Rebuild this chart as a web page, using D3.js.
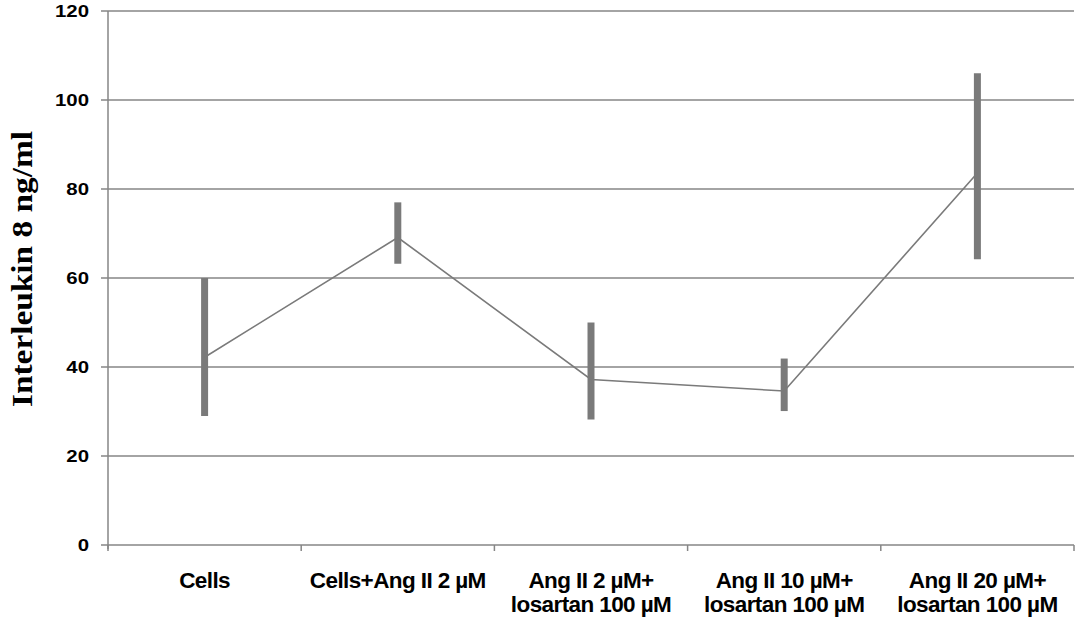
<!DOCTYPE html>
<html>
<head>
<meta charset="utf-8">
<script src="https://cdn.jsdelivr.net/npm/d3@7"></script>
<style>
  body { margin: 0; background: #fff; }
  text { font-family: "Liberation Sans", Arial, sans-serif; }
</style>
</head>
<body>
<div id="chart"></div>
<script>
const width = 1087;
const height = 620;

// data
const categories = [
	["Cells"],
	["Cells+Ang II 2 µM"],
	["Ang II 2 µM+", "losartan 100 µM"],
	["Ang II 10 µM+", "losartan 100 µM"],
	["Ang II 20 µM+", "losartan 100 µM"]
];
const means = [42.2, 69.1, 37.2, 34.6, 83.6];
const lows = [29, 63.2, 28.2, 30.1, 64.2];
const highs = [60, 77, 50, 41.9, 106];
const yTicks = [0, 20, 40, 60, 80, 100, 120];

const margin = { top: 11, right: 13, bottom: 75, left: 108 };

const svg = d3
	.select("#chart")
	.append("svg")
	.attr("width", width)
	.attr("height", height);

const x = d3
	.scaleBand()
	.domain(d3.range(categories.length))
	.range([margin.left, width - margin.right]);

const y = d3
	.scaleLinear()
	.domain([0, 120])
	.range([height - margin.bottom, margin.top]);

// gridlines + y ticks
svg
	.append("g")
	.selectAll("line")
	.data(yTicks)
	.enter()
	.append("line")
	.attr("x1", margin.left - 7)
	.attr("x2", width - margin.right)
	.attr("y1", (d) => y(d))
	.attr("y2", (d) => y(d))
	.attr("stroke", "#868686")
	.attr("stroke-width", 1.5);

// tick labels are drawn a bit wide in the original
svg
	.append("g")
	.selectAll("text")
	.data(yTicks)
	.enter()
	.append("text")
	.attr("transform", (d) => `translate(${margin.left - 19}, ${y(d)}) scale(1.2, 1)`)
	.attr("dy", "0.36em")
	.attr("text-anchor", "end")
	.attr("font-size", 17)
	.attr("font-weight", "bold")
	.attr("fill", "#000")
	.text((d) => d);

// y axis line
svg
	.append("line")
	.attr("x1", margin.left)
	.attr("x2", margin.left)
	.attr("y1", y(120))
	.attr("y2", y(0) + 4)
	.attr("stroke", "#868686")
	.attr("stroke-width", 1.5);

// x ticks at category boundaries
const bounds = d3.range(categories.length + 1).map((i) => margin.left + i * x.bandwidth());
svg
	.append("g")
	.selectAll("line")
	.data(bounds)
	.enter()
	.append("line")
	.attr("x1", (d) => d)
	.attr("x2", (d) => d)
	.attr("y1", y(0))
	.attr("y2", y(0) + 6)
	.attr("stroke", "#868686")
	.attr("stroke-width", 1.5);

// x labels
const labels = svg
	.append("g")
	.selectAll("text")
	.data(categories)
	.enter()
	.append("text")
	.attr("x", (d, i) => x(i) + x.bandwidth() / 2)
	.attr("y", 588)
	.attr("text-anchor", "middle")
	.attr("font-size", 22.5)
	.attr("font-weight", "bold")
	.attr("letter-spacing", -0.6)
	.attr("fill", "#000");

labels
	.selectAll("tspan")
	.data((d) => d)
	.enter()
	.append("tspan")
	.attr("x", function () {
		return d3.select(this.parentNode).attr("x");
	})
	.attr("dy", (d, i) => (i === 0 ? 0 : 24))
	.text((d) => d);

// error bars
svg
	.append("g")
	.selectAll("line")
	.data(means)
	.enter()
	.append("line")
	.attr("x1", (d, i) => x(i) + x.bandwidth() / 2)
	.attr("x2", (d, i) => x(i) + x.bandwidth() / 2)
	.attr("y1", (d, i) => y(lows[i]))
	.attr("y2", (d, i) => y(highs[i]))
	.attr("stroke", "#7a7a7a")
	.attr("stroke-width", 7);

// mean line
const line = d3
	.line()
	.x((d, i) => x(i) + x.bandwidth() / 2)
	.y((d) => y(d));

svg
	.append("path")
	.datum(means)
	.attr("d", line)
	.attr("fill", "none")
	.attr("stroke", "#7a7a7a")
	.attr("stroke-width", 1.6);

// y title
svg
	.append("text")
	.attr("transform", `translate(32, 269) rotate(-90) scale(1.15, 1)`)
	.attr("text-anchor", "middle")
	.style("font-family", "'Liberation Serif', 'Times New Roman', serif")
	.attr("font-size", 29)
	.attr("font-weight", "bold")
	.attr("fill", "#000")
	.text("Interleukin 8 ng/ml");
</script>
</body>
</html>
